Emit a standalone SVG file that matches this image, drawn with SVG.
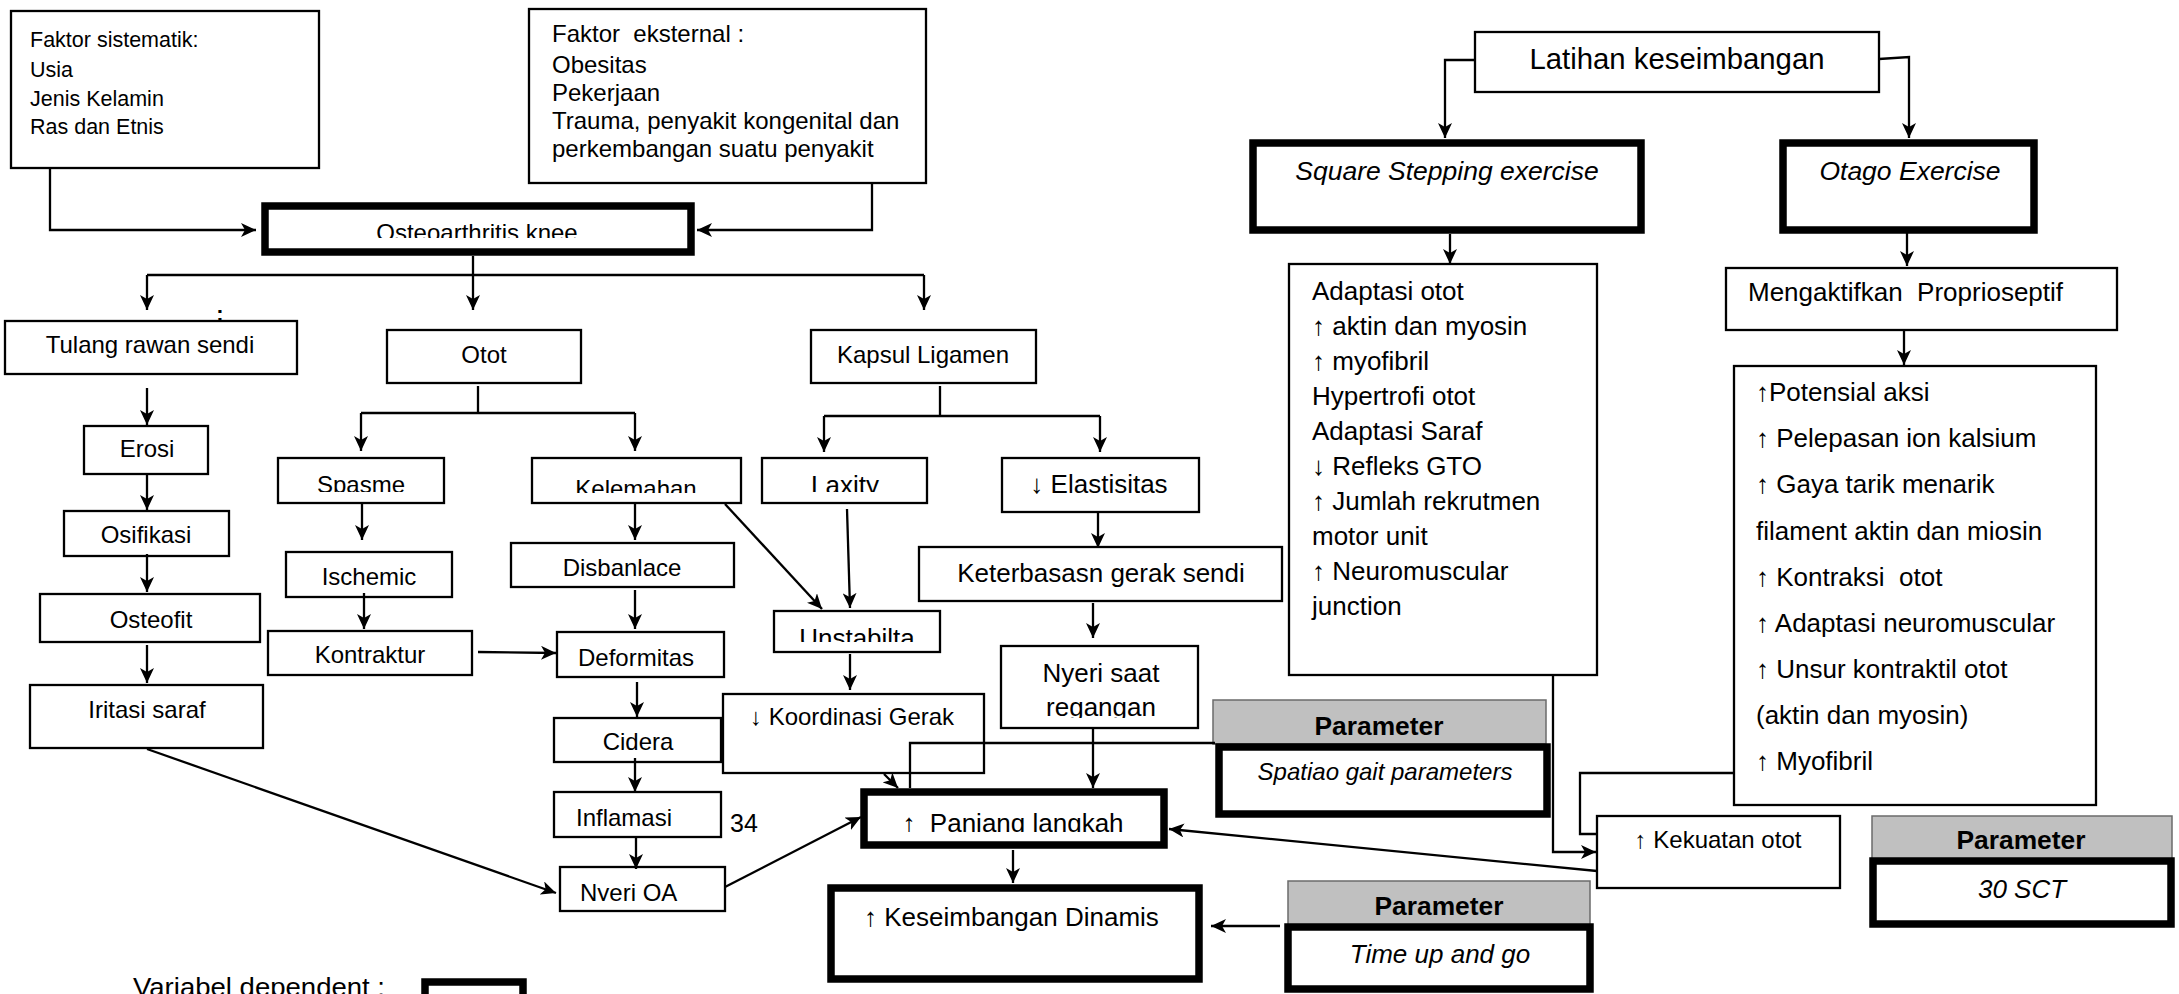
<svg xmlns="http://www.w3.org/2000/svg" width="2179" height="994" viewBox="0 0 2179 994">
<style>
.box{fill:#fff;stroke:#000;stroke-width:2.3}
.thick{fill:#fff;stroke:#000;stroke-width:7.5}
.hdr{fill:#c0c0c0;stroke:#6b6b6b;stroke-width:1.5}
text{font-family:"Liberation Sans",Arial,sans-serif;font-size:24px;fill:#000}
.c{text-anchor:middle}
.f26{font-size:26px}
.fs{font-size:21.5px}
.i{font-style:italic}
.b{font-weight:bold}
#connectors path{fill:none;stroke:#000;stroke-width:2.3}
.a{marker-end:url(#ah)}
</style>
<defs>
<marker id="ah" markerUnits="userSpaceOnUse" markerWidth="16" markerHeight="14" refX="15" refY="7" orient="auto"><path d="M0,0 L15,7 L0,14 L4,7 z" fill="#000"/></marker>
<clipPath id="cl-oa" clipPathUnits="userSpaceOnUse"><rect x="265" y="206" width="426" height="32"/></clipPath>
<clipPath id="cl-sp" clipPathUnits="userSpaceOnUse"><rect x="278" y="458" width="166" height="34"/></clipPath>
<clipPath id="cl-ke" clipPathUnits="userSpaceOnUse"><rect x="532" y="458" width="209" height="35"/></clipPath>
<clipPath id="cl-la" clipPathUnits="userSpaceOnUse"><rect x="762" y="458" width="165" height="34"/></clipPath>
<clipPath id="cl-un" clipPathUnits="userSpaceOnUse"><rect x="774" y="611" width="166" height="31"/></clipPath>
<clipPath id="cl-ny" clipPathUnits="userSpaceOnUse"><rect x="1001" y="646" width="197" height="72"/></clipPath>
<clipPath id="cl-noa" clipPathUnits="userSpaceOnUse"><rect x="560" y="867" width="165" height="34"/></clipPath>
<clipPath id="cl-pl" clipPathUnits="userSpaceOnUse"><rect x="864" y="792" width="300" height="40"/></clipPath>
</defs>
<rect width="2179" height="994" fill="#fff"/>

<g id="n-faktor-sistematik">
<rect class="box" x="11" y="11" width="308" height="157"/>
<text class="fs" x="30" y="47">Faktor sistematik:</text>
<text class="fs" x="30" y="77">Usia</text>
<text class="fs" x="30" y="106">Jenis Kelamin</text>
<text class="fs" x="30" y="134">Ras dan Etnis</text>
</g>

<g id="n-faktor-eksternal">
<rect class="box" x="529" y="9" width="397" height="174"/>
<text x="552" y="42" xml:space="preserve">Faktor  eksternal :</text>
<text x="552" y="73">Obesitas</text>
<text x="552" y="101">Pekerjaan</text>
<text x="552" y="129">Trauma, penyakit kongenital dan</text>
<text x="552" y="157">perkembangan suatu penyakit</text>
</g>

<g id="n-oa">
<rect class="thick" x="265" y="206" width="426" height="46"/>
<text class="c" x="477" y="241" clip-path="url(#cl-oa)">Osteoarthritis knee</text>
</g>

<g id="n-colon"><text class="c b" x="220" y="321" style="font-size:22px">:</text></g>

<g id="n-tulang"><rect class="box" x="5" y="321" width="292" height="53"/><text class="c" x="150" y="353">Tulang rawan sendi</text></g>
<g id="n-otot"><rect class="box" x="387" y="330" width="194" height="53"/><text class="c" x="484" y="363">Otot</text></g>
<g id="n-kapsul"><rect class="box" x="811" y="330" width="225" height="53"/><text class="c" x="923" y="363">Kapsul Ligamen</text></g>
<g id="n-erosi"><rect class="box" x="84" y="426" width="124" height="48"/><text class="c" x="147" y="457">Erosi</text></g>
<g id="n-osifikasi"><rect class="box" x="64" y="511" width="165" height="45"/><text class="c" x="146" y="543">Osifikasi</text></g>
<g id="n-osteofit"><rect class="box" x="40" y="594" width="220" height="48"/><text class="c" x="151" y="628">Osteofit</text></g>
<g id="n-iritasi"><rect class="box" x="30" y="685" width="233" height="63"/><text class="c" x="147" y="718">Iritasi saraf</text></g>

<g id="n-spasme"><rect class="box" x="278" y="458" width="166" height="45"/><text class="c" x="361" y="493" clip-path="url(#cl-sp)">Spasme</text></g>
<g id="n-kelemahan"><rect class="box" x="532" y="458" width="209" height="45"/><text class="c" x="636" y="497" clip-path="url(#cl-ke)">Kelemahan</text></g>
<g id="n-laxity"><rect class="box" x="762" y="458" width="165" height="45"/><text class="c f26" x="845" y="494" clip-path="url(#cl-la)">Laxity</text></g>
<g id="n-elastisitas"><rect class="box" x="1002" y="458" width="197" height="54"/><text class="c f26" x="1099" y="493">↓ Elastisitas</text></g>
<g id="n-ischemic"><rect class="box" x="286" y="552" width="166" height="45"/><text class="c" x="369" y="585">Ischemic</text></g>
<g id="n-disbanlace"><rect class="box" x="511" y="543" width="223" height="44"/><text class="c" x="622" y="576">Disbanlace</text></g>
<g id="n-keterbatasan"><rect class="box" x="919" y="547" width="363" height="54"/><text class="c f26" x="1101" y="582">Keterbasasn gerak sendi</text></g>
<g id="n-kontraktur"><rect class="box" x="268" y="631" width="204" height="44"/><text class="c" x="370" y="663">Kontraktur</text></g>
<g id="n-deformitas"><rect class="box" x="557" y="632" width="167" height="45"/><text class="c" x="636" y="666">Deformitas</text></g>
<g id="n-unstabilta"><rect class="box" x="774" y="611" width="166" height="41"/><text class="c f26" x="857" y="647" clip-path="url(#cl-un)">Unstabilta</text></g>
<g id="n-nyeri-saat"><rect class="box" x="1001" y="646" width="197" height="82"/><text class="c f26" x="1101" y="682" clip-path="url(#cl-ny)">Nyeri saat</text><text class="c f26" x="1101" y="716" clip-path="url(#cl-ny)">regangan</text></g>
<g id="n-cidera"><rect class="box" x="554" y="718" width="167" height="44"/><text class="c" x="638" y="750">Cidera</text></g>
<g id="n-koordinasi"><rect class="box" x="723" y="694" width="261" height="79"/><text x="750" y="725">↓ Koordinasi Gerak</text></g>
<g id="n-inflamasi"><rect class="box" x="554" y="792" width="167" height="45"/><text x="576" y="826">Inflamasi</text></g>
<g id="n-34"><text x="730" y="832" style="font-size:25px">34</text></g>
<g id="n-nyeri-oa"><rect class="box" x="560" y="867" width="165" height="44"/><text x="580" y="901" clip-path="url(#cl-noa)">Nyeri OA</text></g>

<g id="n-panjang"><rect class="thick" x="864" y="792" width="300" height="53"/><text class="c f26" x="1013" y="832" clip-path="url(#cl-pl)" xml:space="preserve">↑  Panjang langkah</text></g>
<g id="n-keseimbangan"><rect class="thick" x="831" y="888" width="368" height="91"/><text class="f26" x="864" y="926">↑ Keseimbangan Dinamis</text></g>

<g id="n-param-spatiao">
<rect class="hdr" x="1213" y="700" width="333" height="44"/>
<rect class="thick" x="1219" y="747" width="328" height="67"/>
<text class="c b" x="1379" y="735" style="font-size:25px" textLength="129" lengthAdjust="spacingAndGlyphs">Parameter</text>
<text class="c i" x="1385" y="780">Spatiao gait parameters</text>
</g>
<g id="n-param-tug">
<rect class="hdr" x="1288" y="881" width="302" height="44"/>
<rect class="thick" x="1288" y="927" width="302" height="62"/>
<text class="c b" x="1439" y="915" style="font-size:25px" textLength="129" lengthAdjust="spacingAndGlyphs">Parameter</text>
<text class="c i f26" x="1440" y="963">Time up and go</text>
</g>
<g id="n-param-sct">
<rect class="hdr" x="1872" y="816" width="300" height="43"/>
<rect class="thick" x="1873" y="861" width="298" height="63"/>
<text class="c b" x="2021" y="849" style="font-size:25px" textLength="129" lengthAdjust="spacingAndGlyphs">Parameter</text>
<text class="c i f26" x="2022" y="898">30 SCT</text>
</g>

<g id="n-latihan"><rect class="box" x="1475" y="32" width="404" height="60"/><text class="c" x="1677" y="69" style="font-size:29px" textLength="295" lengthAdjust="spacingAndGlyphs">Latihan keseimbangan</text></g>
<g id="n-square"><rect class="thick" x="1253" y="143" width="388" height="87"/><text class="c i" x="1447" y="180" style="font-size:26.5px">Square Stepping exercise</text></g>
<g id="n-otago"><rect class="thick" x="1783" y="143" width="251" height="87"/><text class="c i" x="1910" y="180" style="font-size:26.5px">Otago Exercise</text></g>

<g id="n-adaptasi">
<rect class="box" x="1289" y="264" width="308" height="411"/>
<text class="f26" x="1312" y="300">Adaptasi otot</text>
<text class="f26" x="1312" y="335">↑ aktin dan myosin</text>
<text class="f26" x="1312" y="370">↑ myofibril</text>
<text class="f26" x="1312" y="405">Hypertrofi otot</text>
<text class="f26" x="1312" y="440">Adaptasi Saraf</text>
<text class="f26" x="1312" y="475">↓ Refleks GTO</text>
<text class="f26" x="1312" y="510">↑ Jumlah rekrutmen</text>
<text class="f26" x="1312" y="545">motor unit</text>
<text class="f26" x="1312" y="580">↑ Neuromuscular</text>
<text class="f26" x="1312" y="615">junction</text>
</g>

<g id="n-mengaktifkan"><rect class="box" x="1726" y="268" width="391" height="62"/><text class="f26" x="1748" y="301" xml:space="preserve">Mengaktifkan  Proprioseptif</text></g>

<g id="n-proprio">
<rect class="box" x="1734" y="366" width="362" height="439"/>
<text class="f26" x="1756" y="401">↑Potensial aksi</text>
<text class="f26" x="1756" y="447">↑ Pelepasan ion kalsium</text>
<text class="f26" x="1756" y="493">↑ Gaya tarik menarik</text>
<text class="f26" x="1756" y="540">filament aktin dan miosin</text>
<text class="f26" x="1756" y="586" xml:space="preserve">↑ Kontraksi  otot</text>
<text class="f26" x="1756" y="632">↑ Adaptasi neuromuscular</text>
<text class="f26" x="1756" y="678">↑ Unsur kontraktil otot</text>
<text class="f26" x="1756" y="724">(aktin dan myosin)</text>
<text class="f26" x="1756" y="770">↑ Myofibril</text>
</g>

<g id="n-kekuatan"><rect class="box" x="1597" y="816" width="243" height="72"/><text class="c" x="1718" y="848">↑ Kekuatan otot</text></g>

<g id="n-legend">
<text x="133" y="996" style="font-size:26px" textLength="252" lengthAdjust="spacingAndGlyphs">Variabel dependent :</text>
<rect class="thick" x="425" y="982" width="98" height="40"/>
</g>

<g id="connectors">
<path class="a" d="M50,168 V230 H256"/>
<path class="a" d="M872,183 V230 H697"/>
<path class="a" d="M473,256 V310"/>
<path d="M147,275 H924"/>
<path class="a" d="M147,275 V310"/>
<path class="a" d="M924,275 V310"/>
<path class="a" d="M147,388 V425"/>
<path class="a" d="M147,474 V510"/>
<path class="a" d="M147,554 V592"/>
<path class="a" d="M147,645 V683"/>
<path class="a" d="M147,749 L556,893"/>
<path d="M478,386 V413 M361,413 H635"/>
<path class="a" d="M361,413 V451"/>
<path class="a" d="M635,413 V451"/>
<path class="a" d="M362,504 V540"/>
<path class="a" d="M364,593 V629"/>
<path class="a" d="M478,652 L556,653"/>
<path class="a" d="M635,504 V540"/>
<path class="a" d="M635,590 V629"/>
<path class="a" d="M637,682 V717"/>
<path class="a" d="M635,758 V792"/>
<path class="a" d="M636,837 V869"/>
<path class="a" d="M725,887 L861,817"/>
<path d="M940,386 V416 M824,416 H1100"/>
<path class="a" d="M824,416 V452"/>
<path class="a" d="M1100,416 V452"/>
<path class="a" d="M847,509 L850,608"/>
<path class="a" d="M725,504 L822,609"/>
<path class="a" d="M1098,513 V548"/>
<path class="a" d="M1093,603 V638"/>
<path class="a" d="M850,654 V690"/>
<path class="a" d="M884,774 L898,788"/>
<path class="a" d="M1093,729 V788"/>
<path d="M1215,743 H910 V788"/>
<path class="a" d="M1013,850 V883"/>
<path class="a" d="M1280,926 H1211"/>
<path class="a" d="M1553,675 V852 H1596"/>
<path d="M1734,773 H1580 V834 H1597"/>
<path class="a" d="M1597,871 L1169,829"/>
<path class="a" d="M1475,60 H1445 V138"/>
<path class="a" d="M1879,59 L1909,57 V138"/>
<path class="a" d="M1450,234 V264"/>
<path class="a" d="M1907,227 V266"/>
<path class="a" d="M1904,330 V365"/>
</g>
</svg>
